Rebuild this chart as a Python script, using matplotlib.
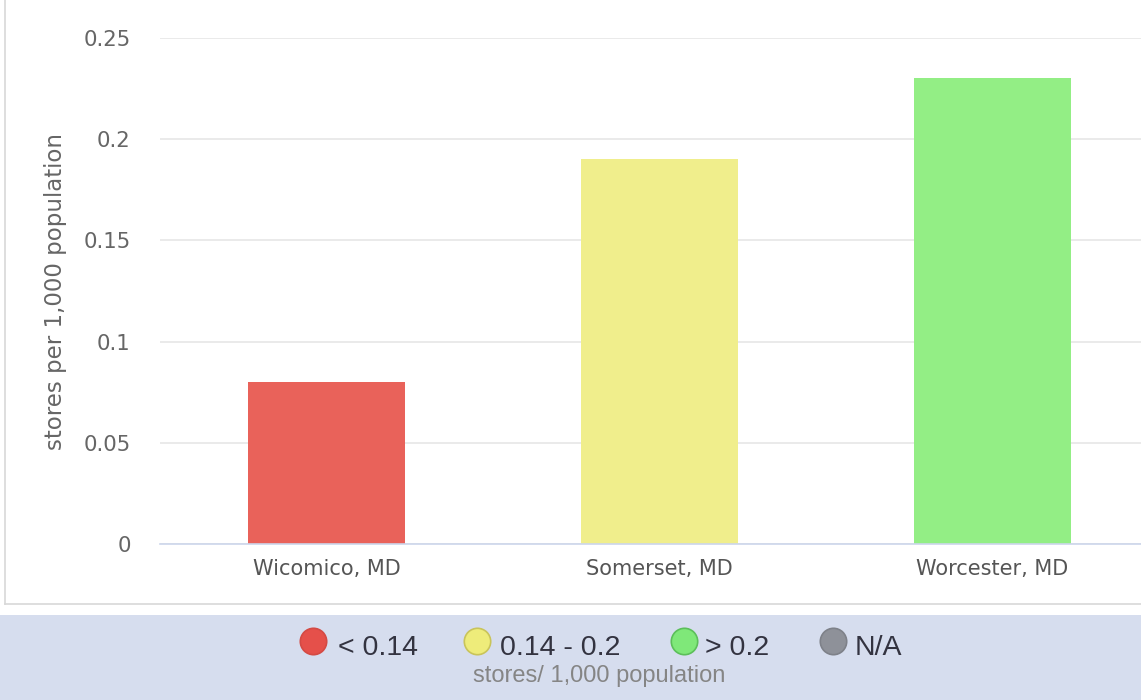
import matplotlib
matplotlib.use("Agg")
import matplotlib.pyplot as plt
from matplotlib.lines import Line2D
from matplotlib.patches import Rectangle

# data
counties = ["Wicomico, MD", "Somerset, MD", "Worcester, MD"]
stores_per_1000 = [0.08, 0.19, 0.23]
bar_colors = ["#e9625a", "#f0ee8c", "#93ee85"]

legend_labels = ["< 0.14", "0.14 - 0.2", "> 0.2", "N/A"]
legend_colors = ["#e5504a", "#eeec7a", "#7fe879", "#8e9199"]
legend_edges = ["#d44a44", "#c9c45a", "#5cbf5a", "#7e8189"]
legend_title = "stores/ 1,000 population"
y_ticks = [0, 0.05, 0.1, 0.15, 0.2, 0.25]
y_title = "stores per 1,000 population"

W, H = 1141, 700
fig = plt.figure(figsize=(W / 100, H / 100), dpi=100)
fig.patch.set_facecolor("white")

# outer frame of chart box and legend band
fig.add_artist(Line2D([5 / W, 5 / W], [1, 1 - 604 / H], color="#d8d8d8", lw=1.2))
fig.add_artist(Line2D([5 / W, 1], [1 - 604 / H, 1 - 604 / H], color="#d8d8d8", lw=1.2))
fig.add_artist(Rectangle((0, 0), 1, 85 / H, transform=fig.transFigure,
                         facecolor="#d6ddee", edgecolor="none"))

# axes placed by pixels: zero line at y=544, 0.25 at y=38, first slot starts at x=160
ax = fig.add_axes([160 / W, (H - 544) / H, 999 / W, 506 / H])
ax.bar(range(len(counties)), stores_per_1000, width=0.47, color=bar_colors, zorder=3)
ax.set_xlim(-0.5, 2.5)
ax.set_ylim(0, 0.25)
ax.set_yticks(y_ticks)
ax.set_yticklabels(["0", "0.05", "0.1", "0.15", "0.2", "0.25"])
ax.set_xticks(range(len(counties)))
ax.set_xticklabels(counties)
ax.grid(axis="y", color="#e6e6e6", lw=1.2, zorder=0)
for s in ["top", "right", "left"]:
    ax.spines[s].set_visible(False)
ax.spines["bottom"].set_color("#ccd6eb")
ax.spines["bottom"].set_linewidth(1.2)
ax.spines["bottom"].set_zorder(4)
ax.tick_params(axis="y", length=0, pad=21, labelsize=15.3, labelcolor="#666666")
ax.tick_params(axis="x", length=0, pad=11, labelsize=15, labelcolor="#555555")
ax.set_ylabel(y_title, fontsize=16.5, color="#666666")
ax.yaxis.set_label_coords(-93 / 999, 0.5)

# legend items drawn into the band
xs_marker = [313, 477, 684, 833]
xs_text = [338, 500, 705, 855]
for lab, col, ec, xm, xt in zip(legend_labels, legend_colors, legend_edges, xs_marker, xs_text):
    fig.add_artist(Line2D([xm / W], [1 - 641 / H], marker="o", markersize=19,
                          color=col, markeredgecolor=ec, markeredgewidth=1.2))
    fig.text(xt / W, 1 - 655 / H, lab, fontsize=20.5, color="#333340",
             family="Liberation Sans", va="baseline", ha="left")
fig.text(599 / W, 1 - 682 / H, legend_title, fontsize=17, color="#858585",
         family="Liberation Sans", va="baseline", ha="center")

fig.savefig("out.png", dpi=100)
